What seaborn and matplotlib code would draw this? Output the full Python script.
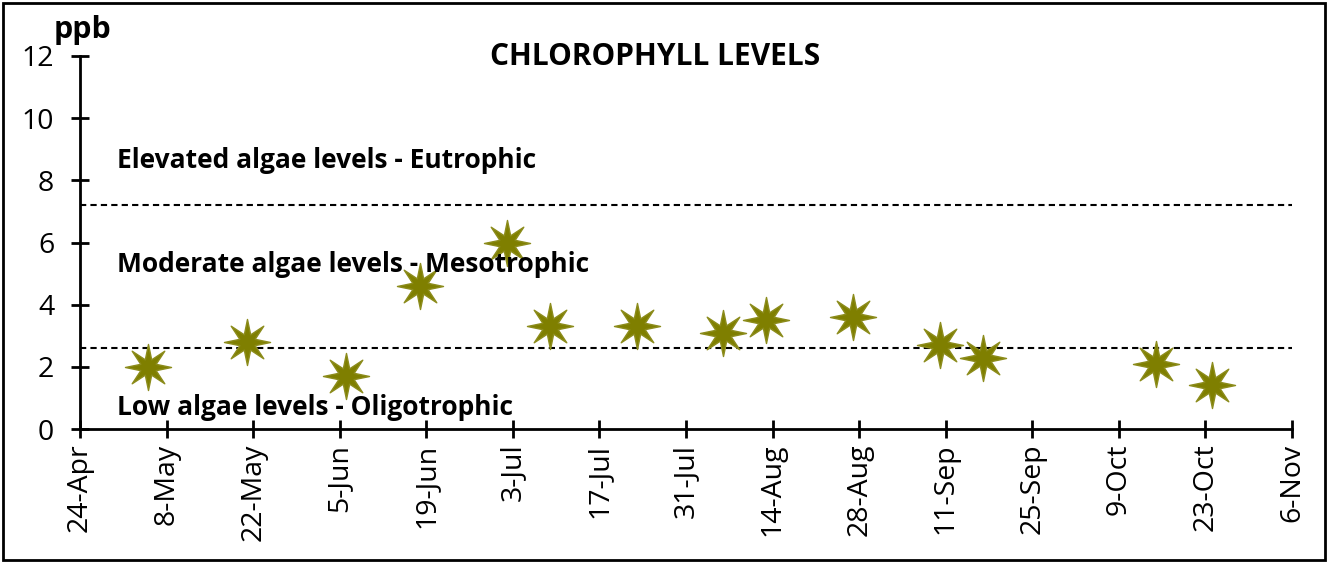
import matplotlib
matplotlib.use("Agg")
import matplotlib.pyplot as plt
import matplotlib.dates as mdates
from matplotlib.patches import Rectangle
from matplotlib.path import Path
import seaborn as sns
import pandas as pd
import numpy as np

# sample dates and chlorophyll readings (ppb)
sample_dates = ["2019-05-05", "2019-05-21", "2019-06-06", "2019-06-18", "2019-07-02",
                "2019-07-09", "2019-07-23", "2019-08-06", "2019-08-13", "2019-08-27",
                "2019-09-10", "2019-09-17", "2019-10-15", "2019-10-24"]
chlorophyll = [2.0, 2.8, 1.7, 4.6, 6.0, 3.3, 3.3, 3.1, 3.5, 3.6, 2.7, 2.3, 2.1, 1.4]

# trophic thresholds
eutrophic_line = 7.2
oligotrophic_line = 2.6
zone_labels = ["Elevated algae levels - Eutrophic",
               "Moderate algae levels - Mesotrophic",
               "Low algae levels - Oligotrophic"]
zone_label_y = [8.65, 5.28, 0.68]

df = pd.DataFrame({"date": pd.to_datetime(sample_dates), "ppb": chlorophyll})

# thin 8-point star marker
ang = np.arange(16) * np.pi / 8 + np.pi / 2
rad = np.where(np.arange(16) % 2 == 0, 1.0, 0.36)
star_verts = np.column_stack([rad * np.cos(ang), rad * np.sin(ang)])
star = Path(np.vstack([star_verts, star_verts[:1]]), closed=True)

sns.set_style("white")
plt.rcParams["font.family"] = ["Open Sans", "DejaVu Sans"]
plt.rcParams["text.color"] = "black"

fig = plt.figure(figsize=(13.28, 5.63), dpi=100)
ax = fig.add_axes([80 / 1328, 134 / 563, 1212 / 1328, 373 / 563])

ax.axhline(eutrophic_line, color="black", linestyle=(0, (3, 2)), linewidth=1.5, zorder=1)
ax.axhline(oligotrophic_line, color="black", linestyle=(0, (3, 2)), linewidth=1.5, zorder=1)

sns.scatterplot(data=df, x="date", y="ppb", ax=ax, marker=star, s=1100,
                color="#7f7f00", edgecolor="#8c8c1c", linewidth=1.0, zorder=3, legend=False)

start = pd.Timestamp("2019-04-24")
end = pd.Timestamp("2019-11-06")
ax.set_xlim(start, end)
ax.set_ylim(0, 12)
ax.set_xticks(pd.date_range(start, end, freq="14D"))
ax.xaxis.set_major_formatter(mdates.DateFormatter("%-d-%b"))
ax.set_yticks(range(0, 13, 2))
ax.tick_params(axis="x", labelrotation=90, bottom=True, pad=4)
ax.tick_params(axis="y", left=True, pad=12)
ax.tick_params(direction="inout", length=13, width=2, labelsize=20.5, colors="black")
ax.set_xlabel("")
ax.set_ylabel("")
for side in ["top", "right"]:
    ax.spines[side].set_visible(False)
for side in ["left", "bottom"]:
    ax.spines[side].set_linewidth(2)
    ax.spines[side].set_color("black")

for label, yv in zip(zone_labels, zone_label_y):
    ax.text(pd.Timestamp("2019-04-30"), yv, label, fontsize=19, fontweight="bold",
            va="center", ha="left")

fig.text(655 / 1328, 1 - 57 / 563, "CHLOROPHYLL LEVELS", fontsize=21.5, fontweight="bold",
         ha="center", va="center")
fig.text(82 / 1328, 1 - 30 / 563, "ppb", fontsize=22, fontweight="bold", ha="center", va="center")

fig.patches.append(Rectangle((3 / 1328, 3 / 563), 1322 / 1328, 557 / 563, transform=fig.transFigure,
                             fill=False, edgecolor="black", linewidth=2))

fig.savefig("out.png", dpi=100)
